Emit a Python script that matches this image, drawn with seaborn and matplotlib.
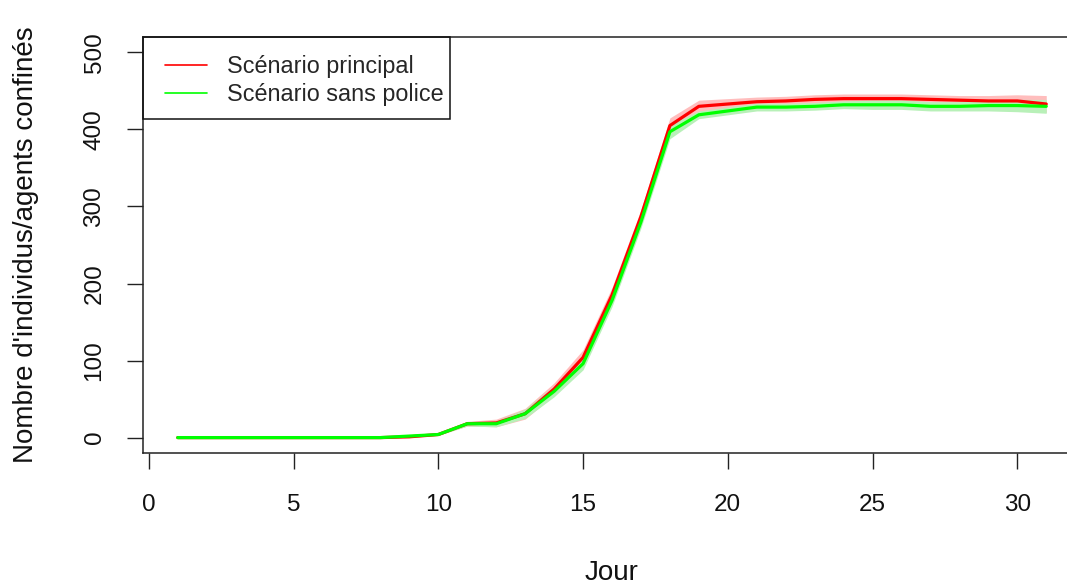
import matplotlib
matplotlib.use("Agg")
import matplotlib.pyplot as plt
from matplotlib.patches import Rectangle
from matplotlib.lines import Line2D
import pandas as pd
import seaborn as sns

# Nombre moyen d'individus/agents confinés par jour, avec demi-largeur de l'intervalle
jours = list(range(1, 32))
principal = [0, 0, 0, 0, 0, 0, 0, 0, 1, 4, 18, 19, 31, 63, 104, 185, 287, 405,
             430, 433, 436, 437, 439, 440, 440, 440, 439, 438, 437, 437, 433]
principal_ecart = [0, 0, 0, 0, 0, 0, 0, 0, 1, 1, 3, 5, 7, 8, 10, 10, 9, 10,
                   8, 7, 6, 6, 6, 6, 6, 6, 6, 6, 7, 8, 11]
sans_police = [0, 0, 0, 0, 0, 0, 0, 0, 2, 4, 18, 18, 31, 60, 96, 178, 280, 397,
               419, 424, 429, 429, 430, 432, 432, 432, 430, 430, 431, 431, 430]
sans_police_ecart = [0, 0, 0, 0, 0, 0, 0, 0, 1, 1, 3, 4, 6, 7, 8, 8, 8, 9,
                     5, 5, 5, 5, 5, 5, 6, 6, 6, 6, 7, 8, 9]

noms = ["Scénario principal", "Scénario sans police"]
couleurs_lignes = ["#FF0000", "#00FF00"]
couleurs_bandes = ["#FFBDBD", "#B8F0B8"]

x_ticks = [0, 5, 10, 15, 20, 25, 30]
y_ticks = [0, 100, 200, 300, 400, 500]

sns.set_style("white")
plt.rcParams["font.family"] = ["Liberation Sans", "DejaVu Sans"]

W, H = 1067, 588
fig = plt.figure(figsize=(W / 100, H / 100), dpi=100)
fig.patch.set_facecolor("white")

# zone de tracé (pixels) ; le bord droit dépasse la figure
L, R, T, B = 143, 1081, 37, 453
ax = fig.add_axes([L / W, (H - B) / H, (R - L) / W, (B - T) / H])


def xa(px):
    return (px - L) / (R - L)


def ya(py):
    return (B - py) / (B - T)


series = [(principal, principal_ecart), (sans_police, sans_police_ecart)]
for (moy, ecart), nom, c_l, c_b in zip(series, noms, couleurs_lignes, couleurs_bandes):
    df = pd.DataFrame({"Jour": jours, "valeur": moy, "ecart": ecart})
    ax.fill_between(df["Jour"], df["valeur"] - df["ecart"], df["valeur"] + df["ecart"],
                    color=c_b, linewidth=0)
    sns.lineplot(data=df, x="Jour", y="valeur", ax=ax, color=c_l, linewidth=2.3,
                 legend=False)

ax.set_xlim(-0.2, 32.2)
ax.set_ylim(-20, 520)
ax.set_xticks(x_ticks)
ax.set_xticklabels([str(v) for v in x_ticks], fontsize=17.5, color="#111111")
ax.set_yticks(y_ticks)
ax.set_yticklabels([str(v) for v in y_ticks], fontsize=17.5, color="#111111",
                   rotation=90, va="center")
ax.tick_params(axis="both", which="major", direction="out", length=11.5, width=1.0,
               color="#222222", bottom=True, left=True, top=False, right=False)
ax.tick_params(axis="x", pad=18)
ax.tick_params(axis="y", pad=15.5)
for s in ax.spines.values():
    s.set_visible(True)
    s.set_color("#222222")
    s.set_linewidth(1.1)

ax.set_xlabel("Jour", fontsize=20, color="#111111")
ax.xaxis.set_label_coords(0.5, ya(560.5))
ax.set_ylabel("Nombre d'individus/agents confinés", fontsize=20, color="#111111")
ax.yaxis.set_label_coords(xa(39), 0.5)

# légende
poignees = [Line2D([0], [0], color=c, linewidth=1.2) for c in couleurs_lignes]
ax.legend(poignees, noms, loc="upper left", bbox_to_anchor=(xa(165), ya(55)),
          frameon=False, borderpad=0, borderaxespad=0, fontsize=16.8,
          handlelength=42 / 23.3, handletextpad=20 / 23.3, labelspacing=0.2)
ax.add_patch(Rectangle((0, ya(119)), xa(450), 1 - ya(119), transform=ax.transAxes,
                       fill=False, edgecolor="#111111", linewidth=1.1,
                       clip_on=False, zorder=5))

fig.savefig("out.png", dpi=100, facecolor="white")
